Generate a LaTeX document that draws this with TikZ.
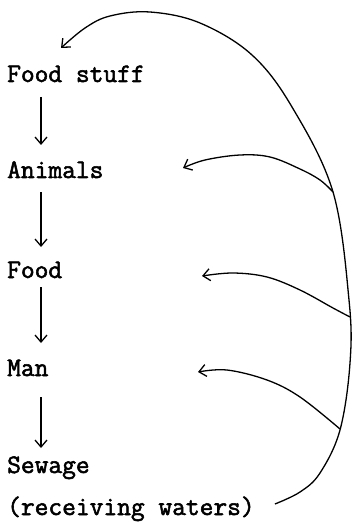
\documentclass[tikz,border=0pt]{standalone}
\usepackage{fontspec}
\setmonofont[FakeBold=2]{Latin Modern Mono}
\usetikzlibrary{arrows.meta}
\tikzset{
  lbl/.style={anchor=base west, inner sep=0pt, font=\ttfamily\fontsize{26.8}{30}\selectfont},
  arr/.style={line width=1.3bp, -{Straight Barb[length=7bp,width=12bp,line width=1.3bp]}},
}
\begin{document}
\begin{tikzpicture}[x=1bp,y=-1bp]
\useasboundingbox (0,0) rectangle (351,528);
\node[lbl] (fs) at (7,82) {Food stuff};
\node[lbl] (an) at (7,178) {Animals};
\node[lbl] (fd) at (7,278) {Food};
\node[lbl] (mn) at (7,376) {Man};
\node[lbl] (sw) at (7,473) {Sewage};
\node[lbl] (rw) at (7,515) {(receiving waters)};
% vertical arrows
\draw[arr] ([xshift=34bp,yshift=-15bp]fs.base west) -- ([xshift=34bp,yshift=33bp]an.base west);
\draw[arr] ([xshift=34bp,yshift=-14bp]an.base west) -- ([xshift=34bp,yshift=31bp]fd.base west);
\draw[arr] ([xshift=34bp,yshift=-9bp]fd.base west) -- ([xshift=34bp,yshift=33bp]mn.base west);
\draw[arr] ([xshift=34bp,yshift=-21bp]mn.base west) -- ([xshift=34bp,yshift=25bp]sw.base west);
% named free ends
\coordinate (start) at ([xshift=20bp,yshift=11bp]rw.base east);
\coordinate (top) at ([xshift=54bp,yshift=34bp]fs.base west);
\coordinate (ja) at (333,192);
\coordinate (jf) at (350,317);
\coordinate (jm) at (340,429);
\coordinate (ta) at ([xshift=176bp,yshift=10bp]an.base west);
\coordinate (tf) at ([xshift=195bp,yshift=2bp]fd.base west);
\coordinate (tm) at ([xshift=191bp,yshift=4bp]mn.base west);
% big return curve
\draw[arr] plot[smooth,tension=0.6] coordinates {(start) (300,492) (320,473) (340,430) (350,363) (349,300) (333,192) (292,107) (252,55) (200,23) (150,12) (110,16) (85,28) (top)};
% branches
\draw[arr] plot[smooth,tension=0.6] coordinates {(ja) (320,180) (300,169) (270,157) (240,155) (205,160) (ta)};
\draw[arr] plot[smooth,tension=0.6] coordinates {(jf) (333,308) (300,290) (267,277) (233,273) (tf)};
\draw[arr] plot[smooth,tension=0.6] coordinates {(jm) (300,397) (267,380) (227,370) (tm)};
\end{tikzpicture}
\end{document}
